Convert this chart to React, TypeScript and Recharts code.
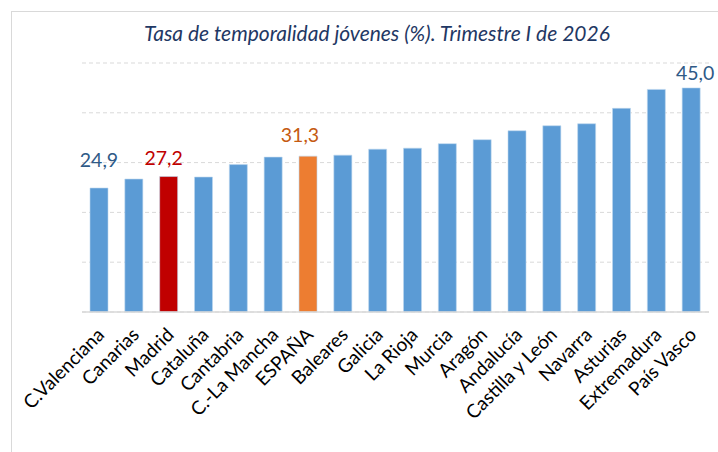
import React from "react";
import { BarChart, Bar, XAxis, YAxis, CartesianGrid, Cell, LabelList } from "recharts";

const regions = [
  "C.Valenciana", "Canarias", "Madrid", "Cataluña", "Cantabria", "C.-La Mancha",
  "ESPAÑA", "Baleares", "Galicia", "La Rioja", "Murcia", "Aragón", "Andalucía",
  "Castilla y León", "Navarra", "Asturias", "Extremadura", "País Vasco",
];
const rates = [24.9, 26.7, 27.2, 27.1, 29.6, 31.1, 31.3, 31.5, 32.7, 32.9, 33.8, 34.6, 36.4, 37.4, 37.8, 40.9, 44.7, 45.0];
const shownLabels = ["24,9", "", "27,2", "", "", "", "31,3", "", "", "", "", "", "", "", "", "", "", "45,0"];
const yTicks = [0, 10, 20, 30, 40, 50];
const title = "Tasa de temporalidad jóvenes (%). Trimestre I de 2026";

const BLUE = "#5B9BD5";
const RED = "#C00000";
const ORANGE = "#ED7D31";

const data = regions.map((r, i) => ({ region: r, value: rates[i], label: shownLabels[i] }));

const barColor = (r: string) => (r === "Madrid" ? RED : r === "ESPAÑA" ? ORANGE : BLUE);
const labelColor = (r: string) => (r === "Madrid" ? RED : r === "ESPAÑA" ? "#C55A11" : "#2F5A87");
// manual nudges of the value labels (as in the original layout)
const labelNudge: Record<string, [number, number]> = {
  "C.Valenciana": [0, -21],
  Madrid: [-5, -12],
  "ESPAÑA": [-8, -14],
  "País Vasco": [4, -8],
};

const ValueLabel = (props: any) => {
  const { x, y, width, index } = props;
  const d = data[index];
  if (!d || !d.label) return null;
  const [dx, dy] = labelNudge[d.region] || [0, -8];
  return (
    <text
      x={x + width / 2 + dx}
      y={y + dy}
      textAnchor="middle"
      fontFamily="Lato"
      fontSize={19.5}
      fill={labelColor(d.region)}
    >
      {d.label}
    </text>
  );
};

const CatTick = (props: any) => {
  const { x, y, payload } = props;
  const ax = x + 6;
  const ay = y + 16;
  return (
    <text
      x={ax}
      y={ay}
      transform={`rotate(-45, ${ax}, ${ay})`}
      textAnchor="end"
      fontFamily="Lato"
      fontSize={19}
      fill="#000000"
    >
      {payload.value}
    </text>
  );
};

export default function App() {
  return (
    <div style={{ position: "absolute", left: 0, top: 0, width: 718, height: 452, background: "#fff", overflow: "hidden" }}>
      <div
        style={{
          position: "absolute",
          left: 11,
          top: 11,
          width: 740,
          height: 460,
          border: "1.5px solid #D9D9D9",
          boxSizing: "border-box",
        }}
      />
      <div
        style={{
          position: "absolute",
          left: 12,
          width: 730,
          top: 20,
          textAlign: "center",
          fontFamily: "Lato",
          fontStyle: "italic",
          fontSize: 21,
          color: "#1F3864",
          whiteSpace: "nowrap",
        }}
      >
        {title}
      </div>
      <div style={{ position: "absolute", left: 0, top: 0 }}>
        <BarChart
          width={718}
          height={452}
          data={data}
          margin={{ top: 63, right: 9, bottom: 0, left: 82 }}
          barSize={18}
        >
          <CartesianGrid vertical={false} stroke="#D9D9D9" strokeDasharray="4 3" />
          <YAxis hide domain={[0, 50]} ticks={yTicks} width={0} />
          <XAxis
            dataKey="region"
            interval={0}
            tickLine={false}
            axisLine={{ stroke: "#D9D9D9", strokeWidth: 1.5 }}
            tick={<CatTick />}
            height={140}
          />
          <Bar dataKey="value" isAnimationActive={false} stroke="#BDD7EE" strokeWidth={0.6}>
            {data.map((d) => (
              <Cell key={d.region} fill={barColor(d.region)} />
            ))}
            <LabelList dataKey="label" content={<ValueLabel />} />
          </Bar>
        </BarChart>
      </div>
    </div>
  );
}
